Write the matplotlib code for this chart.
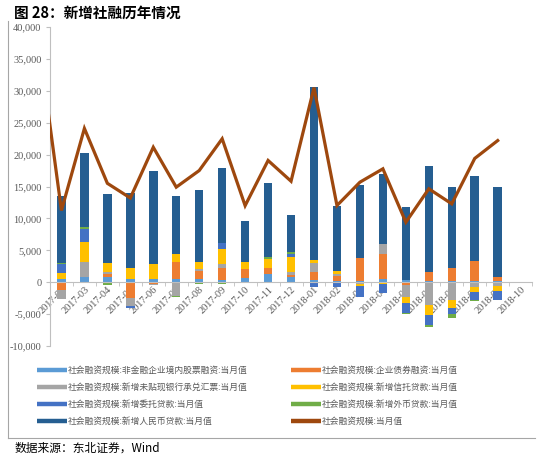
import numpy as np
import matplotlib
matplotlib.use("Agg")
import matplotlib.pyplot as plt
from matplotlib.lines import Line2D

plt.rcParams['font.family'] = ['Noto Sans CJK SC', 'DejaVu Sans']

# months 2017-01 .. 2018-10 (first and last only partly visible / empty)
months = ['2017-01', '2017-02', '2017-03', '2017-04', '2017-05', '2017-06', '2017-07',
          '2017-08', '2017-09', '2017-10', '2017-11', '2017-12', '2018-01', '2018-02',
          '2018-03', '2018-04', '2018-05', '2018-06', '2018-07', '2018-08', '2018-09', '2018-10']
nan = np.nan

# components, 亿元
equity = [nan, 500, 780, 780, 500, 520, 500, 520, 420, 630, 1300, 780,
          370, 260, 260, 500, 370, 260, 260, 160, 160, nan]
bonds = [nan, -1200, 0, 520, -2400, -200, 2600, 1300, 1830, 1460, 940, 300,
         1200, 780, 3550, 4000, -400, 1300, 1980, 3240, 630, nan]
bills = [nan, -1500, 2350, 260, -1300, -300, -2090, 260, 630, 0, 0, 600,
         1410, 200, -200, 1460, -1880, -3600, -2770, -780, -600, nan]
trust = [nan, 1000, 3240, 1460, 1720, 2350, 1300, 1040, 2350, 1040, 1410, 2240,
         570, 570, -400, -300, -900, -1500, -1250, -780, -700, nan]
entrusted = [nan, 1300, 1980, 0, -400, 0, 0, 0, 890, 0, 0, 520,
             -680, -680, -1750, -1450, -1570, -1600, -940, -1200, -1410, nan]
fx_loans = [nan, 260, 370, -370, 0, 0, -150, -300, -200, -100, 260, 260,
            0, 0, 0, 0, -260, -300, -630, -200, -100, nan]
rmb_loans = [nan, 10390, 11500, 10830, 11840, 14530, 9190, 11360, 11810, 6540, 11610, 5860,
             27120, 10210, 11460, 11030, 11390, 16730, 12760, 13170, 14210, nan]
tsf_total = [38000, 11240, 24100, 15500, 13200, 21150, 14900, 17500, 22480, 12000, 19080, 15830,
             30500, 12020, 15680, 17770, 9400, 14640, 12280, 19400, 22200, nan]

labels = ['社会融资规模:非金融企业境内股票融资:当月值', '社会融资规模:企业债券融资:当月值',
          '社会融资规模:新增未贴现银行承兑汇票:当月值', '社会融资规模:新增信托贷款:当月值',
          '社会融资规模:新增委托贷款:当月值', '社会融资规模:新增外币贷款:当月值',
          '社会融资规模:新增人民币贷款:当月值', '社会融资规模:当月值']
colors = ['#5B9BD5', '#ED7D31', '#A5A5A5', '#FFC000', '#4472C4', '#70AD47', '#255E91', '#9E480E']

series = [equity, bonds, bills, trust, entrusted, fx_loans, rmb_loans]

fig = plt.figure(figsize=(5.43, 4.62), dpi=100)
ax = fig.add_axes([0.092, 0.251, 0.888, 0.6906])

# spines first: set_position resets the ticks
ax.spines['top'].set_visible(False)
ax.spines['right'].set_visible(False)
ax.spines['bottom'].set_position(('data', 0))
ax.spines['bottom'].set_color('#BFBFBF')
ax.spines['left'].set_color('#BFBFBF')

x = np.arange(len(months))
pos_bottom = np.zeros(len(months))
neg_bottom = np.zeros(len(months))
for vals, c in zip(series, colors[:7]):
    v = np.nan_to_num(np.array(vals, dtype=float))
    bottom = np.where(v >= 0, pos_bottom, neg_bottom)
    ax.bar(x, v, 0.37, bottom=bottom, color=c, zorder=2)
    pos_bottom += np.where(v > 0, v, 0)
    neg_bottom += np.where(v < 0, v, 0)

ax.plot(x, tsf_total, color=colors[7], lw=2.3, zorder=3, solid_joinstyle='miter')

ax.set_xlim(0.5, len(months) - 0.5)
ax.set_ylim(-10000, 40000)
ax.set_yticks(np.arange(-10000, 40001, 5000))
ax.yaxis.set_major_formatter(matplotlib.ticker.FuncFormatter(lambda v, p: f'{int(v):,}'))

ax.set_xticks(np.arange(0.5, len(months) - 0.4, 1), minor=True)
ax.tick_params(axis='x', which='major', length=0, pad=2)
ax.tick_params(axis='x', which='minor', length=3, color='#BFBFBF', direction='out')
ax.tick_params(axis='y', length=3, color='#BFBFBF', pad=3)
ax.set_xticks(x[1:])
ax.set_xticklabels(months[1:], rotation=45, ha='right', va='top', rotation_mode='anchor')
for lab in ax.get_xticklabels() + ax.get_yticklabels():
    lab.set_fontfamily('Liberation Serif')
    lab.set_fontsize(7.5)
    lab.set_color('#595959')

# legend, row-major order in 2 columns
handles = [Line2D([], [], color=c, lw=3.2, solid_capstyle='butt') for c in colors]
order = [0, 2, 4, 6, 1, 3, 5, 7]
leg = fig.legend([handles[i] for i in order], [labels[i] for i in order], ncol=2,
                 loc='upper left', bbox_to_anchor=(0.062, 0.215), frameon=False,
                 prop={'size': 6.3}, handlelength=3.4, handletextpad=0.1,
                 columnspacing=5.0, labelspacing=0.92, borderaxespad=0)
for t in leg.get_texts():
    t.set_color('#595959')

fig.text(0.026, 0.973, '图 28：新增社融历年情况', fontsize=10.5, fontweight='bold', va='center')
fig.text(0.026, 0.03, '数据来源：东北证券，Wind', fontsize=8.5, va='center')

# outer frame (left and bottom only)
fig.add_artist(Line2D([0.015, 0.015], [1 - 21 / 462, 1 - 438 / 462], color='#A6A6A6', lw=0.8))
fig.add_artist(Line2D([0.015, 535 / 543], [1 - 438 / 462, 1 - 438 / 462], color='#A6A6A6', lw=0.8))

fig.savefig('out.png', dpi=100)
